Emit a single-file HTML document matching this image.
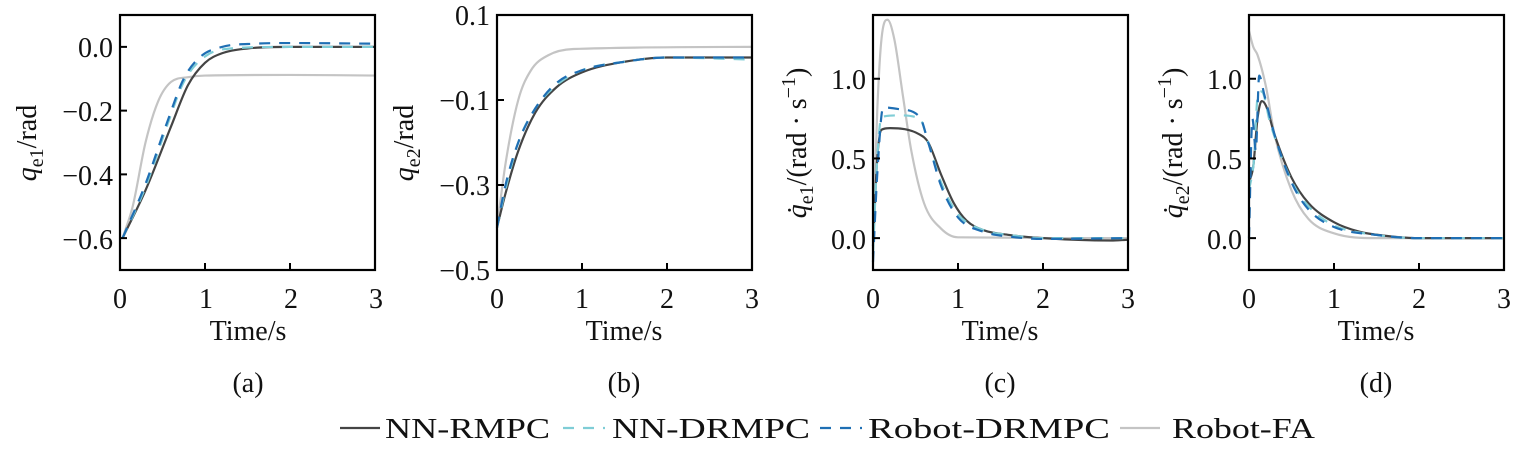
<!DOCTYPE html>
<html><head><meta charset="utf-8"><style>
body{margin:0;background:#fff}
svg text{font-family:"Liberation Serif",serif;fill:#111}
</style></head><body>
<svg id="s" width="1513" height="448" viewBox="0 0 1513 448" xmlns="http://www.w3.org/2000/svg">
<g font-size="28">
<g text-anchor="middle">
<text x="120" y="308">0</text><text x="206" y="308">1</text><text x="291" y="308">2</text><text x="376" y="308">3</text>
<text x="497" y="308">0</text><text x="582" y="308">1</text><text x="667" y="308">2</text><text x="752" y="308">3</text>
<text x="873" y="308">0</text><text x="958" y="308">1</text><text x="1043" y="308">2</text><text x="1128" y="308">3</text>
<text x="1249" y="308">0</text><text x="1334" y="308">1</text><text x="1419" y="308">2</text><text x="1504" y="308">3</text>
<text x="248" y="340">Time/s</text><text x="624" y="340">Time/s</text><text x="1000" y="340">Time/s</text><text x="1376" y="340">Time/s</text>
<text x="248" y="392">(a)</text><text x="624" y="392">(b)</text><text x="1000" y="392">(c)</text><text x="1376" y="392">(d)</text>
</g>
<g text-anchor="end">
<text x="113" y="57">0.0</text><text x="113" y="121">−0.2</text><text x="113" y="185">−0.4</text><text x="113" y="249">−0.6</text>
<text x="490" y="25">0.1</text><text x="490" y="110">−0.1</text><text x="490" y="195">−0.3</text><text x="490" y="280">−0.5</text>
<text x="866" y="89">1.0</text><text x="866" y="169">0.5</text><text x="866" y="249">0.0</text>
<text x="1242" y="89">1.0</text><text x="1242" y="169">0.5</text><text x="1242" y="249">0.0</text>
</g>
<text transform="translate(36,143) rotate(-90)" text-anchor="middle"><tspan font-style="italic">q</tspan><tspan font-size="20" dy="7">e1</tspan><tspan dy="-7">/rad</tspan></text>
<text transform="translate(413,143) rotate(-90)" text-anchor="middle"><tspan font-style="italic">q</tspan><tspan font-size="20" dy="7">e2</tspan><tspan dy="-7">/rad</tspan></text>
<text transform="translate(806,143) rotate(-90)" text-anchor="middle"><tspan font-style="italic">q̇</tspan><tspan font-size="20" dy="7">e1</tspan><tspan dy="-7">/(rad · s</tspan><tspan font-size="20" dy="-11">−1</tspan><tspan dy="11">)</tspan></text>
<text transform="translate(1182,143) rotate(-90)" text-anchor="middle"><tspan font-style="italic">q̇</tspan><tspan font-size="20" dy="7">e2</tspan><tspan dy="-7">/(rad · s</tspan><tspan font-size="20" dy="-11">−1</tspan><tspan dy="11">)</tspan></text>
<line x1="340" y1="428" x2="380" y2="428" stroke="#444" stroke-width="2.2"/>
<text x="385" y="438" textLength="165" lengthAdjust="spacingAndGlyphs">NN-RMPC</text>
<line x1="563" y1="428" x2="605" y2="428" stroke="#7fcdd6" stroke-width="2.2" stroke-dasharray="11,9"/>
<text x="612" y="438" textLength="198" lengthAdjust="spacingAndGlyphs">NN-DRMPC</text>
<line x1="820" y1="428" x2="862" y2="428" stroke="#1f6fb4" stroke-width="2.2" stroke-dasharray="11,9"/>
<text x="868" y="438" textLength="242" lengthAdjust="spacingAndGlyphs">Robot-DRMPC</text>
<line x1="1120" y1="428" x2="1160" y2="428" stroke="#c4c4c4" stroke-width="2.2"/>
<text x="1172" y="438" textLength="143" lengthAdjust="spacingAndGlyphs">Robot-FA</text>
</g>
<g id="plots"></g>
</svg>
<script>
var NS="http://www.w3.org/2000/svg",G=document.getElementById("plots");
function el(n,a){var e=document.createElementNS(NS,n);for(var k in a)e.setAttribute(k,a[k]);G.appendChild(e);return e;}
var panels=[
{x0:120,yr:[-0.7,0.1],yt:[0,-0.2,-0.4,-0.6],s:{
g:[[0.03,-0.6],[0.15,-0.5],[0.3,-0.3],[0.45,-0.17],[0.6,-0.11],[0.8,-0.095],[1.0,-0.09],[2,-0.088],[3,-0.09]],
d:[[0.03,-0.6],[0.3,-0.45],[0.6,-0.25],[0.8,-0.12],[1.0,-0.05],[1.2,-0.02],[1.5,-0.005],[2,0],[3,0]],
c:[[0.03,-0.6],[0.3,-0.44],[0.55,-0.25],[0.75,-0.11],[1.0,-0.03],[1.3,-0.005],[2,0],[3,0]],
b:[[0.03,-0.6],[0.3,-0.43],[0.55,-0.24],[0.75,-0.1],[0.95,-0.03],[1.2,0.0],[1.6,0.01],[2,0.012],[3,0.01]]}},
{x0:497,yr:[-0.5,0.1],yt:[0.1,-0.1,-0.3,-0.5],s:{
g:[[0,-0.4],[0.1,-0.25],[0.25,-0.1],[0.4,-0.03],[0.6,0.005],[0.9,0.02],[3,0.025]],
d:[[0,-0.4],[0.1,-0.32],[0.25,-0.22],[0.45,-0.13],[0.7,-0.07],[1.0,-0.035],[1.5,-0.01],[2,0.0],[3,0.0]],
c:[[0,-0.4],[0.1,-0.31],[0.25,-0.2],[0.45,-0.12],[0.7,-0.065],[1.0,-0.03],[1.5,-0.01],[2,0.0],[3,-0.005]],
b:[[0,-0.4],[0.1,-0.3],[0.25,-0.2],[0.45,-0.12],[0.7,-0.06],[1.0,-0.03],[1.5,-0.01],[2,0.0],[3,0.0]]}},
{x0:873,yr:[-0.2,1.4],yt:[1,0.5,0],s:{
g:[[0,0],[0.05,0.8],[0.1,1.25],[0.17,1.37],[0.25,1.25],[0.35,0.9],[0.45,0.55],[0.6,0.22],[0.8,0.06],[1.0,0.005],[3,0]],
d:[[0,-0.05],[0.05,0.5],[0.1,0.68],[0.2,0.69],[0.55,0.65],[0.65,0.6],[0.8,0.4],[0.95,0.22],[1.1,0.11],[1.3,0.05],[1.6,0.02],[2,0],[2.8,-0.015],[3,-0.01]],
c:[[0,-0.1],[0.05,0.5],[0.1,0.76],[0.3,0.77],[0.55,0.75],[0.65,0.6],[0.8,0.35],[1.0,0.15],[1.3,0.05],[1.6,0.02],[2,0],[3,0]],
b:[[0,-0.15],[0.05,0.4],[0.12,0.82],[0.3,0.81],[0.55,0.76],[0.65,0.6],[0.8,0.33],[1.0,0.13],[1.3,0.04],[1.6,0.01],[2,-0.005],[3,0]]}},
{x0:1249,yr:[-0.2,1.4],yt:[1,0.5,0],s:{
g:[[0,1.3],[0.05,1.2],[0.1,1.15],[0.2,0.95],[0.3,0.65],[0.5,0.3],[0.7,0.12],[1.0,0.03],[1.5,0],[3,0]],
d:[[0,0.35],[0.05,0.45],[0.1,0.75],[0.15,0.86],[0.2,0.83],[0.3,0.65],[0.5,0.38],[0.7,0.22],[1.0,0.1],[1.3,0.04],[1.6,0.015],[2,0],[3,0]],
c:[[0,0.3],[0.06,0.5],[0.1,0.88],[0.15,0.92],[0.25,0.72],[0.5,0.36],[0.7,0.2],[1,0.08],[1.5,0.02],[2,0],[3,0]],
b:[[0,0],[0.04,0.75],[0.08,0.55],[0.12,1.02],[0.18,0.9],[0.3,0.65],[0.5,0.35],[0.7,0.18],[1.0,0.07],[1.5,0.02],[2,0],[3,0]]}}];
var sty={g:["#c4c4c4",""],d:["#444",""],c:["#7fcdd6","11,9"],b:["#1f6fb4","11,9"]};
var T=15,B=270,W=255;
function mono(P){ // Fritsch-Carlson
 var n=P.length,dl=[],m=[];
 for(var i=0;i<n-1;i++)dl.push((P[i+1][1]-P[i][1])/(P[i+1][0]-P[i][0]));
 m[0]=dl[0];m[n-1]=dl[n-2];
 for(i=1;i<n-1;i++){m[i]=(dl[i-1]*dl[i]<=0)?0:(dl[i-1]+dl[i])/2;}
 for(i=0;i<n-1;i++){if(dl[i]==0){m[i]=0;m[i+1]=0;continue;}
  var a=m[i]/dl[i],b=m[i+1]/dl[i],s=a*a+b*b;if(s>9){var t=3/Math.sqrt(s);m[i]=t*a*dl[i];m[i+1]=t*b*dl[i];}}
 return m;
}
panels.forEach(function(p){
 var X=function(t){return p.x0+t/3*W},Y=function(v){return B-(v-p.yr[0])/(p.yr[1]-p.yr[0])*(B-T)};
 ["g","d","c","b"].forEach(function(k){
  var P=p.s[k],m=mono(P);
  var d="M"+X(P[0][0]).toFixed(2)+","+Y(P[0][1]).toFixed(2);
  for(var i=0;i<P.length-1;i++){var h=P[i+1][0]-P[i][0];
   d+=" C"+X(P[i][0]+h/3).toFixed(2)+","+Y(P[i][1]+m[i]*h/3).toFixed(2)+" "+X(P[i+1][0]-h/3).toFixed(2)+","+Y(P[i+1][1]-m[i+1]*h/3).toFixed(2)+" "+X(P[i+1][0]).toFixed(2)+","+Y(P[i+1][1]).toFixed(2);}
  var a={d:d,fill:"none",stroke:sty[k][0],"stroke-width":2.2};
  if(sty[k][1])a["stroke-dasharray"]=sty[k][1];
  el("path",a);
 });
 el("rect",{x:p.x0,y:T,width:W,height:B-T,fill:"none",stroke:"#000","stroke-width":2.2});
 for(var t=1;t<3;t++)el("line",{x1:X(t),x2:X(t),y1:B,y2:B-7,stroke:"#000","stroke-width":2});
 p.yt.forEach(function(v){el("line",{x1:p.x0,x2:p.x0+7,y1:Y(v),y2:Y(v),stroke:"#000","stroke-width":2})});
});
</script>
</body></html>
